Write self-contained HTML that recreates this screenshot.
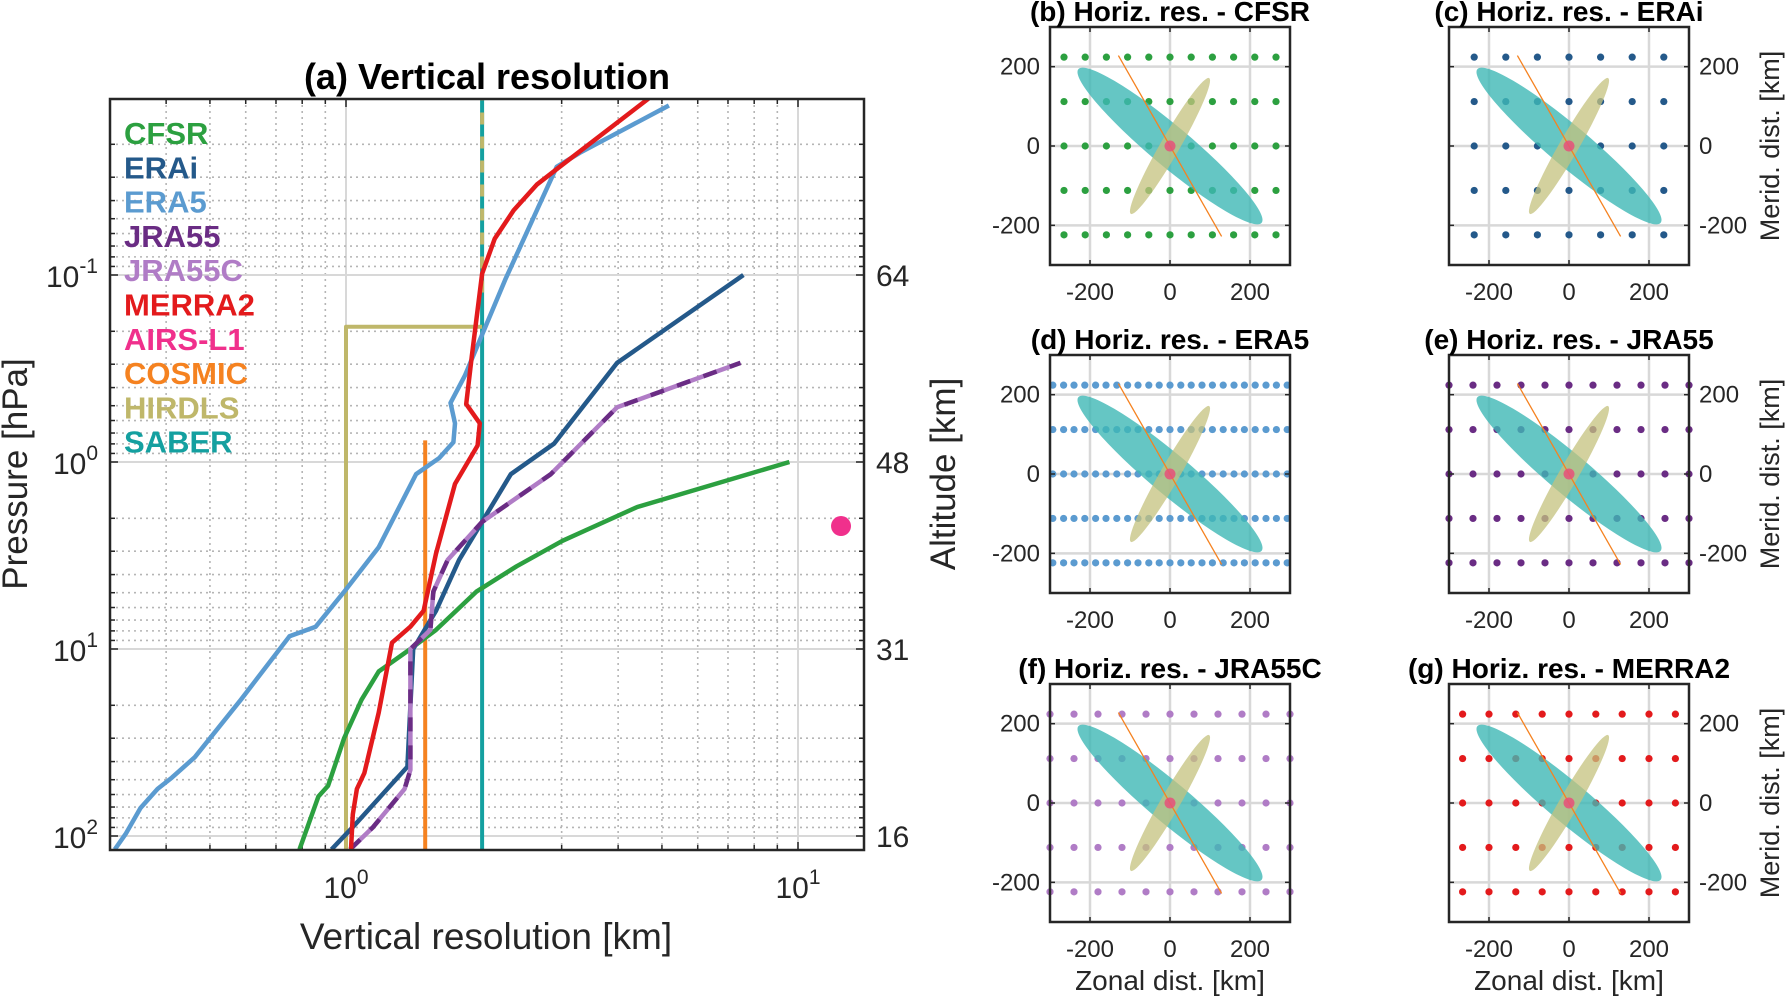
<!DOCTYPE html>
<html><head><meta charset="utf-8"><style>
html,body{margin:0;padding:0;background:#fff;}
svg{display:block;font-family:"Liberation Sans",Arial,sans-serif;}
</style></head><body>
<svg id="fig" width="1787" height="998" viewBox="0 0 1787 998" xmlns="http://www.w3.org/2000/svg"></svg>
<script>
// ---- Panel (a) data: vertical resolution [km] vs pressure [hPa] ----
const cfsrKm  = [0.789,0.869,0.913,0.991,1.082,1.181,1.388,1.582,1.942,2.385,3.013,4.41,9.57];
const cfsrHpa = [118,61.5,53.8,29.9,18.7,13.2,10,7.9,4.94,3.61,2.64,1.74,1.0];
const eraiKm  = [0.929,1.035,1.181,1.367,1.408,1.582,1.779,2.316,2.886,3.98,7.57];
const eraiHpa = [118,89.6,63,42.6,10,6.25,3.34,1.16,0.797,0.295,0.1];
const era5Km  = [0.308,0.326,0.351,0.383,0.412,0.463,0.585,0.750,0.857,0.991,1.181,1.429,1.606,1.728,1.742,1.703,1.833,2.25,2.925,3.29,5.18];
const era5Hpa = [118,96.9,70.8,56,48.7,37.9,18.7,8.55,7.6,4.94,2.86,1.16,0.954,0.785,0.621,0.483,0.345,0.106,0.0264,0.0222,0.0124];
const jra55Km  = [1.021,1.148,1.348,1.388,1.388,1.537,1.56,1.679,2.0,2.84,3.98,7.46];
const jra55Hpa = [118,89.6,56,44.3,10,7.9,4.94,3.34,2.09,1.16,0.51,0.295];
const merraKm  = [1.026,1.035,1.057,1.098,1.181,1.264,1.388,1.485,1.582,1.742,1.955,1.977,1.845,1.898,2.0,2.133,2.35,2.642,2.97,4.67];
const merraHpa = [118,76.6,56,46,21.9,9.25,7.6,6.25,3.09,1.31,0.816,0.621,0.49,0.272,0.0985,0.064,0.045,0.0329,0.0264,0.0114];
const hirdlsKm  = [1.0,1.0,2.0];
const hirdlsHpa = [118,0.189,0.189];
const hirdlsTopKm = [2.0,2.0];
const hirdlsTopHpa = [0.124,0.0114];
const saberKm  = [2.0,2.0];
const saberHpa = [118,0.0114];
const cosmicKm  = [1.497,1.497];
const cosmicHpa = [118,0.766];
const airsKm = [12.45];
const airsHpa = [2.2];
const legendNames = ["CFSR","ERAi","ERA5","JRA55","JRA55C","MERRA2","AIRS-L1","COSMIC","HIRDLS","SABER"];
const legendColors = ["#2ca040","#24598a","#5b9bd0","#6a2c84","#b07cc6","#e31a1c","#f0308c","#f58220","#bfb76a","#14a0a0"];
const yTickVals = [0.1,1,10,100];
const yTickExp = ["-1","0","1","2"];
const altLabels = ["64","48","31","16"];
const xTickVals = [1,10];
const xTickExp = ["0","1"];

// ---- Horizontal panels data ----
const rowsKm = [-224,-112,0,112,224];
const cfsrX  = [-265,-212,-159,-106,-53,0,53,106,159,212,265];
const eraiX  = [-237,-158,-79,0,79,158,237];
const era5X  = [-293,-266,-240,-213,-186,-160,-133,-106,-80,-53,-27,0,27,53,80,106,133,160,186,213,240,266,293];
const jra55X = [-300,-240,-180,-120,-60,0,60,120,180,240,300];
const merraX = [-266,-200,-133,-67,0,67,133,200,266];
const panelTitles = ["(b) Horiz. res. - CFSR","(c) Horiz. res. - ERAi","(d) Horiz. res. - ERA5","(e) Horiz. res. - JRA55","(f) Horiz. res. - JRA55C","(g) Horiz. res. - MERRA2"];
const panelDotColors = ["#2ca040","#24598a","#5b9bd0","#6a2c84","#b07cc6","#e31a1c"];
const panelGrids = [cfsrX,eraiX,era5X,jra55X,jra55X,merraX];
const smallTicks = [-200,0,200];

const NS="http://www.w3.org/2000/svg";
const svg=document.getElementById('fig');
function el(tag,attrs,parent){const e=document.createElementNS(NS,tag);for(const k in attrs)e.setAttribute(k,attrs[k]);(parent||svg).appendChild(e);return e;}
function txt(s,attrs,parent){const t=el('text',attrs,parent);t.textContent=s;return t;}

// ---- Panel (a) ----
const A={l:110,r:864,t:99,b:850};
const X0=346, XD=452;
const Y0=462, YD=187;
function ax(v){return X0+Math.log10(v)*XD;}
function ay(p){return Y0+Math.log10(p)*YD;}
const ga=el('g',{});


el('defs',{},ga).innerHTML='<clipPath id="clipA"><rect x="110" y="99" width="754" height="751"/></clipPath>';
const grid=el('g',{},ga);


for(let d=-1;d<=1;d++){for(let m=1;m<=9;m++){const v=m*Math.pow(10,d);const x=ax(v);if(x<A.l+1||x>A.r-1)continue;
 if(m===1)el('line',{x1:x,y1:A.t,x2:x,y2:A.b,stroke:'#d8d8d8','stroke-width':2},grid);
 else el('line',{x1:x,y1:A.t,x2:x,y2:A.b,stroke:'#b5b5b5','stroke-width':1.6,'stroke-dasharray':'2,4'},grid);}}
for(let d=-2;d<=2;d++){for(let m=1;m<=9;m++){const v=m*Math.pow(10,d);const y=ay(v);if(y<A.t+1||y>A.b-1)continue;
 if(m===1)el('line',{x1:A.l,y1:y,x2:A.r,y2:y,stroke:'#d8d8d8','stroke-width':2},grid);
 else el('line',{x1:A.l,y1:y,x2:A.r,y2:y,stroke:'#b5b5b5','stroke-width':1.6,'stroke-dasharray':'2,4'},grid);}}
for(let d=-1;d<=1;d++){for(let m=1;m<=9;m++){const x=ax(m*Math.pow(10,d));if(x<A.l+1||x>A.r-1)continue;const L=m===1?8:5;
 el('line',{x1:x,y1:A.b,x2:x,y2:A.b-L,stroke:'#262626','stroke-width':1.5},ga);el('line',{x1:x,y1:A.t,x2:x,y2:A.t+L,stroke:'#262626','stroke-width':1.5},ga);}}
for(let d=-2;d<=2;d++){for(let m=1;m<=9;m++){const y=ay(m*Math.pow(10,d));if(y<A.t+1||y>A.b-1)continue;const L=m===1?8:5;
 el('line',{x1:A.l,y1:y,x2:A.l+L,y2:y,stroke:'#262626','stroke-width':1.5},ga);el('line',{x1:A.r,y1:y,x2:A.r-L,y2:y,stroke:'#262626','stroke-width':1.5},ga);}}

const lines=el('g',{'clip-path':'url(#clipA)'},ga);
function series(name,xs,ys,color,w,dash){const pts=xs.map((v,i)=>ax(v).toFixed(1)+','+ay(ys[i]).toFixed(1)).join(' ');
 const p=el('polyline',{points:pts,fill:'none',stroke:color,'stroke-width':w,'stroke-linejoin':'round'},lines);
 if(dash)p.setAttribute('stroke-dasharray',dash);
 
 return p;}
series('saber-line',saberKm,saberHpa,'#14a0a0',4);
series('hirdls-line',hirdlsKm,hirdlsHpa,'#bfb76a',4);
series('hirdls-top-dashes',hirdlsTopKm,hirdlsTopHpa,'#bfb76a',4,'12,12');
series('cosmic-line',cosmicKm,cosmicHpa,'#f58220',4);
series('cfsr-line',cfsrKm,cfsrHpa,'#2ca040',4.5);
series('era5-line',era5Km,era5Hpa,'#5b9bd0',4.5);
series('erai-line',eraiKm,eraiHpa,'#24598a',4.5);
series('jra55c-line',jra55Km,jra55Hpa,'#b07cc6',4.5);
series('jra55-line',jra55Km,jra55Hpa,'#6a2c84',4.5,'14,14');
series('merra2-line',merraKm,merraHpa,'#e31a1c',4.5);
airsKm.forEach((v,i)=>{const c=el('circle',{cx:ax(v),cy:ay(airsHpa[i]),r:10,fill:'#f0308c'},ga);
 
 });
el('rect',{x:A.l,y:A.t,width:A.r-A.l,height:A.b-A.t,fill:'none',stroke:'#262626','stroke-width':2.5},ga);
yTickVals.forEach((v,i)=>{const y=ay(v);
 const t=el('text',{x:A.l-12,y:y+12,'text-anchor':'end','font-size':30,fill:'#262626'},ga);
 t.innerHTML='10<tspan dy="-14" font-size="21">'+yTickExp[i]+'</tspan>';
 
 
 const a=txt(altLabels[i],{x:A.r+12,y:y+11,'font-size':30,fill:'#262626'},ga);
 
 });
xTickVals.forEach((v,i)=>{const x=ax(v);
 const t=el('text',{x:x,y:898,'text-anchor':'middle','font-size':30,fill:'#262626'},ga);
 t.innerHTML='10<tspan dy="-14" font-size="21">'+xTickExp[i]+'</tspan>';
 
 });
const tA=txt('(a) Vertical resolution',{x:487,y:89,'text-anchor':'middle','font-size':36,'font-weight':'bold',fill:'#000'},ga);


const xl=txt('Vertical resolution [km]',{x:486,y:949,'text-anchor':'middle','font-size':37,fill:'#262626'},ga);


const yl=txt('Pressure [hPa]',{x:0,y:0,'text-anchor':'middle','font-size':35,fill:'#262626',transform:'translate(27,474) rotate(-90)'},ga);


const al=txt('Altitude [km]',{x:0,y:0,'text-anchor':'middle','font-size':35,fill:'#262626',transform:'translate(955,474) rotate(-90)'},ga);


legendNames.forEach((n,i)=>{const t=txt(n,{x:124,y:144+34.3*i,'font-size':31,'font-weight':'bold',fill:legendColors[i]},ga);
 
 });

// ---- small panels ----
const lefts=[1050,1449], tops=[27,355,684], PW=240, PH=238;
for(let k=0;k<6;k++){
 const L=lefts[k%2], T=tops[Math.floor(k/2)];
 const sx=v=>L+(v+300)/600*PW, sy=v=>T+(300-v)/600*PH;
 const g=el('g',{});
 
 
 el('defs',{},g).innerHTML='<clipPath id="cp'+k+'"><rect x="'+(L-4)+'" y="'+T+'" width="'+(PW+8)+'" height="'+PH+'"/></clipPath>';
 smallTicks.forEach(v=>{el('line',{x1:sx(v),y1:T,x2:sx(v),y2:T+PH,stroke:'#d8d8d8','stroke-width':2.5},g);
  el('line',{x1:L,y1:sy(v),x2:L+PW,y2:sy(v),stroke:'#d8d8d8','stroke-width':2.5},g);});
 const dg=el('g',{'clip-path':'url(#cp'+k+')'},g);
 rowsKm.forEach(r=>panelGrids[k].forEach(c=>{const d=el('circle',{cx:sx(c),cy:sy(r),r:3.6,fill:panelDotColors[k]},dg);
  
  }));
 const cx=sx(0), cy=sy(0);
 const e1=el('ellipse',{cx:cx,cy:cy,rx:299*0.4,ry:50*0.4,fill:'#3fb8b5','fill-opacity':0.8,transform:'rotate(40 '+cx+' '+cy+')'},g);
 
 
 const e2=el('ellipse',{cx:cx,cy:cy,rx:196*0.4,ry:24*0.4,fill:'#c4c27e','fill-opacity':0.75,transform:'rotate(-60 '+cx+' '+cy+')'},g);
 
 
 const ol=el('line',{x1:sx(-129),y1:sy(228),x2:sx(129),y2:sy(-228),stroke:'#f58220','stroke-width':1.3},g);
 
 
 const pd=el('circle',{cx:cx,cy:cy,r:5.5,fill:'#e8507a','fill-opacity':0.85},g);
 
 
 smallTicks.forEach(v=>{
  el('line',{x1:sx(v),y1:T+PH,x2:sx(v),y2:T+PH-5,stroke:'#262626','stroke-width':1.5},g);
  el('line',{x1:sx(v),y1:T,x2:sx(v),y2:T+5,stroke:'#262626','stroke-width':1.5},g);
  el('line',{x1:L,y1:sy(v),x2:L+5,y2:sy(v),stroke:'#262626','stroke-width':1.5},g);
  el('line',{x1:L+PW,y1:sy(v),x2:L+PW-5,y2:sy(v),stroke:'#262626','stroke-width':1.5},g);
  const xt=txt(String(v),{x:sx(v),y:T+PH+35,'text-anchor':'middle','font-size':24,fill:'#262626'},g);
  
  
  const yt = (k%2===0)
   ? txt(String(v),{x:L-10,y:sy(v)+8,'text-anchor':'end','font-size':24,fill:'#262626'},g)
   : txt(String(v),{x:L+PW+10,y:sy(v)+8,'text-anchor':'start','font-size':24,fill:'#262626'},g);
  
  
 });
 el('rect',{x:L,y:T,width:PW,height:PH,fill:'none',stroke:'#262626','stroke-width':2.5},g);
 const tt=txt(panelTitles[k],{x:L+120,y:T-6,'text-anchor':'middle','font-size':28,'font-weight':'bold',fill:'#000'},g);
 
 
 if(k%2===1){const ml=txt('Merid. dist. [km]',{x:0,y:0,'text-anchor':'middle','font-size':27,fill:'#262626',transform:'translate(1779,'+(T+PH/2)+') rotate(-90)'},g);
  
  }
 if(k>=4){const zl=txt('Zonal dist. [km]',{x:L+PW/2,y:990,'text-anchor':'middle','font-size':28,fill:'#262626'},g);
  
  }
}
</script>
</body></html>
